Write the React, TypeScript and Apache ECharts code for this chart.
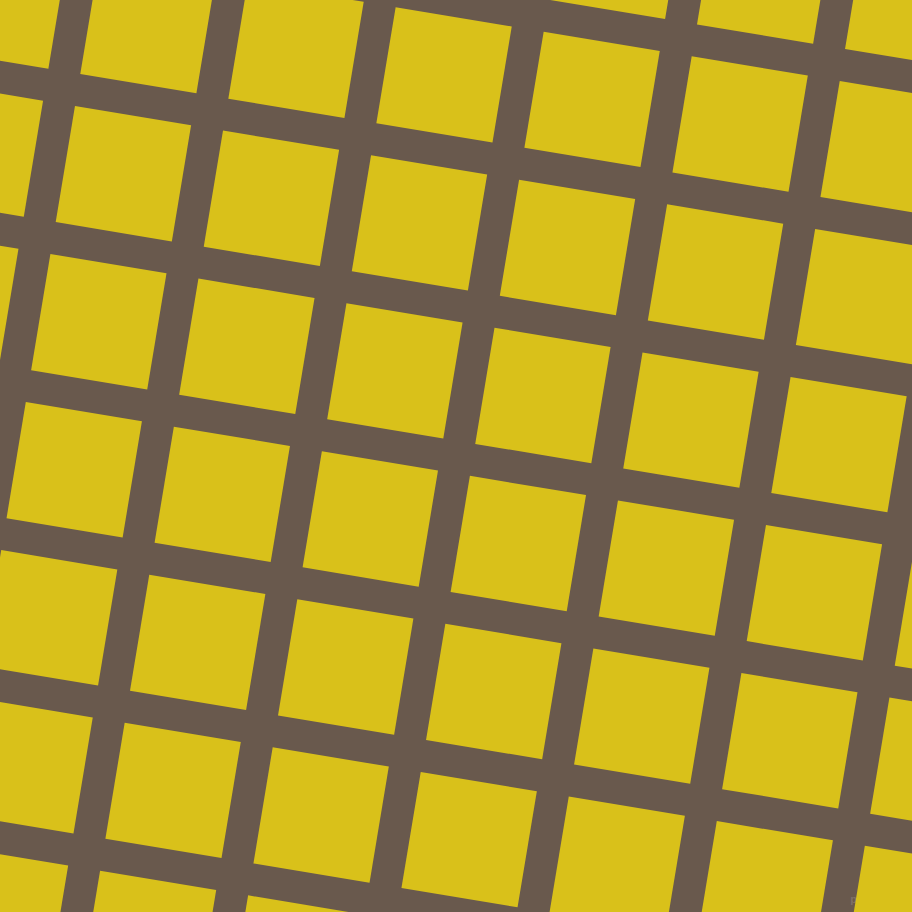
import React, { useEffect, useRef } from 'react';
import * as echarts from 'echarts';

// tile indices along the tilted grid
const colIndex = [-2, -1, 0, 1, 2, 3, 4, 5, 6, 7];
const rowIndex = [-3, -2, -1, 0, 1, 2, 3, 4, 5, 6];

const ANGLE = 9.43; // degrees
const PITCH = 150.06;
const TILE = 117.7;
const ORIGIN = [123.4, 173.7];

const App: React.FC = () => {
  const chartRef = useRef<HTMLDivElement>(null);

  useEffect(() => {
    if (!chartRef.current) return;
    const chart = echarts.init(chartRef.current, undefined, { renderer: 'svg' });

    const cells: number[][] = [];
    colIndex.forEach((i) => rowIndex.forEach((j) => cells.push([i, j])));

    const rad = (ANGLE * Math.PI) / 180;
    const ux = Math.cos(rad);
    const uy = Math.sin(rad);

    chart.setOption({
      animation: false,
      backgroundColor: '#69594d',
      grid: { left: 0, right: 0, top: 0, bottom: 0 },
      xAxis: { type: 'value', min: 0, max: 912, show: false },
      yAxis: { type: 'value', min: 0, max: 912, inverse: true, show: false },
      series: [
        {
          type: 'custom',
          data: cells,
          renderItem: (params: any, api: any) => {
            const i = api.value(0);
            const j = api.value(1);
            const cx = ORIGIN[0] + i * PITCH * ux - j * PITCH * uy;
            const cy = ORIGIN[1] + i * PITCH * uy + j * PITCH * ux;
            const h = TILE / 2;
            const corners = [
              [-h, -h],
              [h, -h],
              [h, h],
              [-h, h],
            ].map(([a, b]) => api.coord([cx + a * ux - b * uy, cy + a * uy + b * ux]));
            return {
              type: 'polygon',
              shape: { points: corners },
              style: { fill: '#d9c11a' },
            };
          },
        },
      ],
      graphic: [
        {
          type: 'text',
          right: 8,
          bottom: 8,
          style: {
            text: 'pixlis.com',
            fill: 'rgba(255,255,255,0.16)',
            font: 'bold 11px sans-serif',
          },
        },
      ],
    });

    return () => chart.dispose();
  }, []);

  return (
    <div
      ref={chartRef}
      style={{ position: 'fixed', left: 0, top: 0, width: '912px', height: '912px' }}
    />
  );
};

export default App;
